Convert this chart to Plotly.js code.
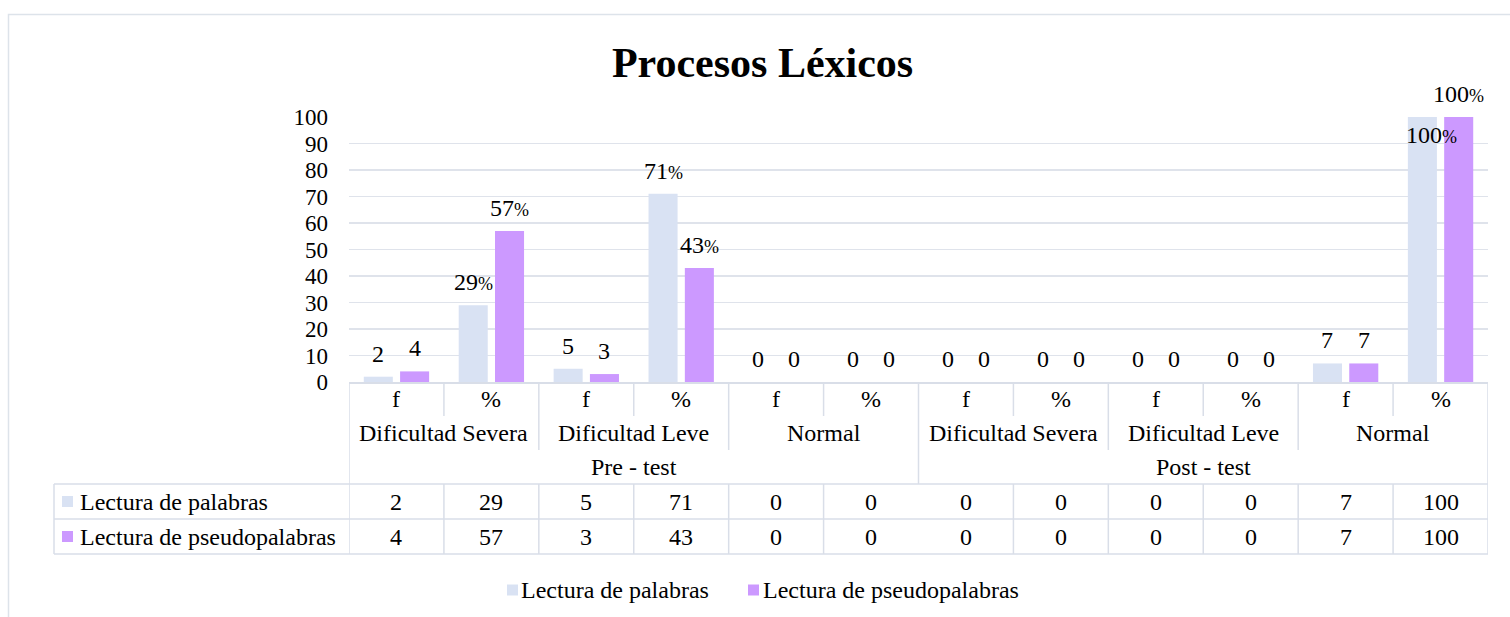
<!DOCTYPE html>
<html>
<head>
<meta charset="utf-8">
<script src="https://cdn.plot.ly/plotly-3.0.1.min.js"></script>
<style>html,body{margin:0;padding:0;background:#fff;}#chart{width:1510px;height:617px;}</style>
</head>
<body>
<div id="chart"></div>
<script>
// ---------- DATA ----------
const subColumns = ['f', '%', 'f', '%', 'f', '%', 'f', '%', 'f', '%', 'f', '%'];
const groups = ['Dificultad Severa', 'Dificultad Leve', 'Normal', 'Dificultad Severa', 'Dificultad Leve', 'Normal'];
const phases = ['Pre - test', 'Post - test'];
const seriesNames = ['Lectura de palabras', 'Lectura de pseudopalabras'];
const palabras = [2, 29, 5, 71, 0, 0, 0, 0, 0, 0, 7, 100];
const pseudopalabras = [4, 57, 3, 43, 0, 0, 0, 0, 0, 0, 7, 100];
const yTicks = [0, 10, 20, 30, 40, 50, 60, 70, 80, 90, 100];

// ---------- STYLE / LAYOUT CONSTANTS ----------
const colors = ['#D9E2F3', '#CC99FF'];
const FONT = 'Liberation Serif, Times New Roman, serif';
const W = 1510, H = 617, ML = 349, MR = 22, MT = 117, MB = 235;
const PW = W - ML - MR, PH = H - MT - MB;
const px2x = px => (px - ML) / PW;
const py2y = py => (H - MB - py) / PH;
const bargap = 0.235, bargroupgap = 0.2;
const off = (1 - bargap) / 4;
const lineColor = '#d9dee8';
const fs = 24;
const rows = {top: 382, hdr1: 416, hdr2: 450, hdr3: 484, r1: 519, r2: 554};
const rowCenters = {sub: 399, grp: 433, phase: 467, d1: 501.5, d2: 536.5};
const n = subColumns.length;
const xs = subColumns.map((_, i) => i);
const series = [palabras, pseudopalabras];

const traces = series.map((vals, s) => ({
  type: 'bar', x: xs, y: vals, name: seriesNames[s],
  marker: {color: colors[s], line: {width: 0}},
  hoverinfo: 'y+name'
}));

const shapes = [];
const annotations = [];
function vline(x, y0, y1) {
  shapes.push({type: 'line', xref: 'x', yref: 'paper', x0: x, x1: x, y0: py2y(y0), y1: py2y(y1),
    line: {color: lineColor, width: 1.5}, layer: 'above'});
}
function hline(py) {
  shapes.push({type: 'line', xref: 'paper', yref: 'paper', x0: px2x(54), x1: 1, y0: py2y(py), y1: py2y(py),
    line: {color: lineColor, width: 1.5}, layer: 'above'});
}
// outer chart frame
shapes.push({type: 'rect', xref: 'paper', yref: 'paper', x0: px2x(8.5), x1: px2x(1700), y0: py2y(14.5), y1: py2y(800),
  line: {color: '#dde3ea', width: 1.5}, layer: 'below'});

// table lines
vline(-0.5, rows.top, rows.r2);
vline(n - 0.5, rows.top, rows.r2);
for (let i = 0; i < n - 1; i++) {
  const b = i + 0.5;
  if (i % 2 === 0) { vline(b, rows.top, rows.hdr1); }
  else if (i === 5) { vline(b, rows.top, rows.hdr3); continue; }
  else { vline(b, rows.top, rows.hdr2); }
  vline(b, rows.hdr3, rows.r2);
}
hline(rows.hdr3); hline(rows.r1); hline(rows.r2);
shapes.push({type: 'line', xref: 'paper', yref: 'paper', x0: px2x(54), x1: px2x(54), y0: py2y(rows.hdr3), y1: py2y(rows.r2),
  line: {color: lineColor, width: 1.5}});

function txt(x, xref, py, text, xanchor) {
  annotations.push({x: x, xref: xref, y: py2y(py), yref: 'paper', text: text, showarrow: false,
    xanchor: xanchor || 'center', yanchor: 'middle', font: {family: FONT, size: fs, color: '#000'}});
}
// header rows
subColumns.forEach((s, i) => txt(i, 'x', rowCenters.sub, s));
groups.forEach((g, j) => txt(2 * j + 0.5, 'x', rowCenters.grp, g));
phases.forEach((p, k) => txt(6 * k + 2.5, 'x', rowCenters.phase, p));
// data rows
series.forEach((vals, s) => {
  const cy = s === 0 ? rowCenters.d1 : rowCenters.d2;
  vals.forEach((v, i) => txt(i, 'x', cy, String(v)));
  txt(px2x(78), 'paper', cy, seriesNames[s], 'left');
  shapes.push({type: 'rect', xref: 'paper', yref: 'paper', x0: px2x(62), x1: px2x(73), y0: py2y(cy - 5.5), y1: py2y(cy + 5.5),
    fillcolor: colors[s], line: {width: 0}});
});

// bar labels
series.forEach((vals, s) => {
  vals.forEach((v, i) => {
    const isPct = subColumns[i] === '%' && v !== 0;
    const label = isPct ? v + '<span style="font-size:18px">%</span>' : String(v);
    let xshift = 0, yshift = 23;
    if (s === 0 && v === 100) { xshift = 9; yshift = -18; }
    annotations.push({x: i + (s === 0 ? -off : off), xref: 'x', y: v, yref: 'y', text: label, showarrow: false,
      xanchor: 'center', yanchor: 'middle', xshift: xshift, yshift: yshift,
      font: {family: FONT, size: fs, color: '#000'}});
  });
});

// bottom legend
const legendItems = [{sq: 507, tx: 519}, {sq: 748, tx: 761}];
legendItems.forEach((it, s) => {
  shapes.push({type: 'rect', xref: 'paper', yref: 'paper', x0: px2x(it.sq), x1: px2x(it.sq + 11), y0: py2y(595.5), y1: py2y(584.5),
    fillcolor: colors[s], line: {width: 0}});
  txt(px2x(it.tx), 'paper', 590, seriesNames[s], 'left');
});

const layout = {
  width: W, height: H,
  margin: {l: ML, r: MR, t: MT, b: MB, pad: 0},
  paper_bgcolor: '#fff', plot_bgcolor: '#fff',
  title: {text: '<b>Procesos Léxicos</b>', font: {family: FONT, size: 42, color: '#000'},
    x: 0.505, xref: 'container', xanchor: 'center', y: 1 - 62 / H, yref: 'container', yanchor: 'middle'},
  barmode: 'group', bargap: bargap, bargroupgap: bargroupgap,
  showlegend: false,
  xaxis: {type: 'linear', range: [-0.5, n - 0.5], showticklabels: false, showgrid: false, zeroline: false,
    showline: true, linecolor: lineColor, linewidth: 1.5, ticks: '', fixedrange: true},
  yaxis: {range: [0, 100], tickvals: yTicks, ticktext: yTicks.map(String), showgrid: true, gridcolor: '#dfe3eb', gridwidth: 1.5,
    zeroline: false, showline: false, ticks: '', ticklabelstandoff: 20,
    tickfont: {family: FONT, size: 23, color: '#000'}, fixedrange: true},
  shapes: shapes,
  annotations: annotations
};

Plotly.newPlot('chart', traces, layout, {displayModeBar: false, staticPlot: true});
</script>
</body>
</html>
